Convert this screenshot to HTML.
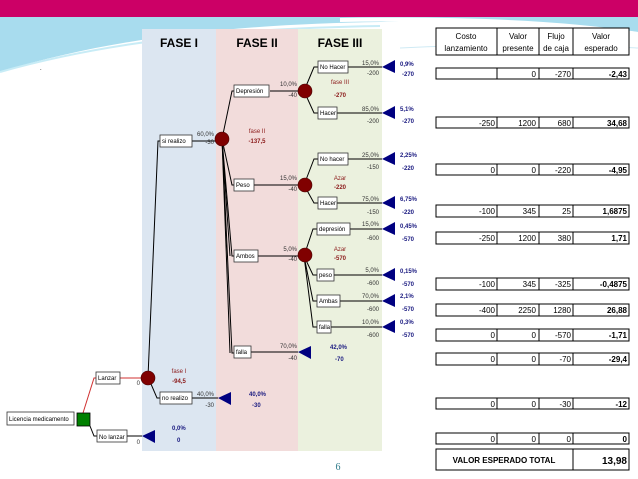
<!DOCTYPE html>
<html><head><meta charset="utf-8"><style>
body{margin:0;width:638px;height:479px;overflow:hidden;background:#fff;font-family:"Liberation Sans",sans-serif}
svg{display:block}
</style></head><body>
<svg width="638" height="479" viewBox="0 0 638 479" font-family="Liberation Sans, sans-serif">
<rect x="0" y="0" width="638" height="17" fill="#cc0066"/>
<path d="M0 17 H638 V32 C560 22 450 20 380 22 C250 24 120 35 0 72 Z" fill="#a8dcee"/>
<path d="M0 72 C120 38 250 28 380 26" stroke="#c8ecf6" stroke-width="2" fill="none"/>
<path d="M340 20 C460 18 560 22 638 34" stroke="#fff" stroke-width="4" fill="none"/>
<path d="M400 48 C480 44 560 44 638 48" stroke="#cfeaf4" stroke-width="1" fill="none"/>
<!-- columns -->
<rect x="142" y="29" width="74" height="422" fill="#dce6f1"/>
<rect x="216" y="29" width="82" height="422" fill="#f2dcdb"/>
<rect x="298" y="29" width="84" height="422" fill="#ebf1de"/>
<g font-weight="bold" font-size="12" text-anchor="middle" fill="#000">
<text x="179" y="47">FASE I</text><text x="257" y="47">FASE II</text><text x="340" y="47">FASE III</text></g>
<text x="40" y="70" font-size="6">.</text>
<!-- lines -->
<g stroke="#000" stroke-width="1" fill="none">
<polyline points="148,377 158,141 160,141"/><polyline points="148,377 157,398 160,398"/>
<line x1="192" y1="141" x2="222" y2="141"/><line x1="192" y1="398" x2="218" y2="398"/>
<polyline points="222,139 232,91 234,91"/><polyline points="222,139 232,185 234,185"/>
<polyline points="222,139 232,256 234,256"/><polyline points="222,139 232,353 234,353"/>
<polyline points="222,139 230,256"/><polyline points="222,139 230,353"/>
<line x1="270" y1="91" x2="304" y2="91"/><line x1="254" y1="185" x2="304" y2="185"/>
<line x1="258" y1="256" x2="304" y2="256"/><line x1="251" y1="352" x2="298" y2="352"/>
<polyline points="304,91 314,67 318,67"/><polyline points="304,91 314,113 318,113"/>
<polyline points="304,185 314,159 318,159"/><polyline points="304,185 314,203 318,203"/>
<polyline points="304,256 313,229 317,229"/><polyline points="304,256 313,275 317,275"/>
<polyline points="304,256 313,301 317,301"/><polyline points="304,256 313,327 317,327"/>
<line x1="348" y1="67" x2="382" y2="67"/><line x1="337" y1="113" x2="382" y2="113"/>
<line x1="348" y1="159" x2="382" y2="159"/><line x1="337" y1="203" x2="382" y2="203"/>
<line x1="350" y1="229" x2="382" y2="229"/><line x1="334" y1="275" x2="382" y2="275"/>
<line x1="340" y1="301" x2="382" y2="301"/><line x1="331" y1="327" x2="382" y2="327"/>
<polyline points="90,426 94,436 97,436"/><line x1="127" y1="436" x2="142" y2="436"/>
</g>
<g stroke="#d03030" fill="none"><polyline points="83,413 94,378 96,378"/><line x1="120" y1="378" x2="148" y2="378"/></g>
<!-- boxes -->
<g fill="#fff" stroke="#333" stroke-width="0.8">
<rect x="7" y="412" width="67" height="13"/><rect x="96" y="372" width="24" height="12"/>
<rect x="97" y="430" width="30" height="12"/><rect x="160" y="135" width="32" height="12"/>
<rect x="160" y="392" width="32" height="12"/><rect x="234" y="85" width="35" height="12"/>
<rect x="234" y="179" width="20" height="12"/><rect x="234" y="250" width="24" height="12"/>
<rect x="234" y="346" width="17" height="12"/>
<rect x="318" y="61" width="30" height="12"/><rect x="318" y="107" width="19" height="12"/>
<rect x="318" y="153" width="30" height="12"/><rect x="318" y="197" width="19" height="12"/>
<rect x="317" y="223" width="33" height="12"/><rect x="317" y="269" width="17" height="12"/>
<rect x="317" y="295" width="23" height="12"/><rect x="317" y="321" width="14" height="12"/>
</g>
<g font-size="6" fill="#000">
<text x="9" y="421">Licencia medicamento</text><text x="98" y="380">Lanzar</text>
<text x="99" y="439">No lanzar</text><text x="162" y="143">si realizo</text>
<text x="162" y="400">no realizo</text><text x="236" y="93">Depresión</text>
<text x="236" y="187">Peso</text><text x="236" y="258">Ambos</text><text x="236" y="354">falla</text>
<text x="320" y="69">No Hacer</text><text x="320" y="115">Hacer</text>
<text x="320" y="161">No hacer</text><text x="320" y="205">Hacer</text>
<text x="319" y="231">depresión</text><text x="319" y="277">peso</text>
<text x="319" y="303">Ambas</text><text x="319" y="329">falla</text>
</g>
<rect x="77" y="413" width="13" height="13" fill="#008000" stroke="#000" stroke-width="0.8"/>
<g fill="#800000" stroke="#400" stroke-width="0.6">
<circle cx="148" cy="378" r="7"/><circle cx="222" cy="139" r="7"/>
<circle cx="305" cy="91" r="7"/><circle cx="305" cy="185" r="7"/><circle cx="305" cy="255" r="7"/>
</g>
<g fill="#000080">
<polygon points="142,436 155,430 155,443"/><polygon points="218,398 231,392 231,405"/>
<polygon points="298,352 311,346 311,359"/>
<polygon points="382,67 395,60 395,73"/><polygon points="382,113 395,106 395,119"/>
<polygon points="382,159 395,152 395,165"/><polygon points="382,203 395,196 395,209"/>
<polygon points="382,229 395,222 395,235"/><polygon points="382,275 395,268 395,281"/>
<polygon points="382,301 395,294 395,307"/><polygon points="382,327 395,320 395,333"/>
</g>
<!-- numbers -->
<g font-size="6" fill="#333" text-anchor="end">
<text x="214" y="136">60,0%</text><text x="214" y="144">-30</text>
<text x="214" y="396">40,0%</text><text x="214" y="407">-30</text>
<text x="297" y="86">10,0%</text><text x="297" y="97">-40</text>
<text x="297" y="180">15,0%</text><text x="297" y="191">-40</text>
<text x="297" y="251">5,0%</text><text x="297" y="261">-40</text>
<text x="297" y="348">70,0%</text><text x="297" y="360">-40</text>
<text x="379" y="65">15,0%</text><text x="379" y="75">-200</text>
<text x="379" y="111">85,0%</text><text x="379" y="123">-200</text>
<text x="379" y="157">25,0%</text><text x="379" y="169">-150</text>
<text x="379" y="201">75,0%</text><text x="379" y="214">-150</text>
<text x="379" y="226">15,0%</text><text x="379" y="240">-600</text>
<text x="379" y="272">5,0%</text><text x="379" y="285">-600</text>
<text x="379" y="298">70,0%</text><text x="379" y="311">-600</text>
<text x="379" y="324">10,0%</text><text x="379" y="337">-600</text>
<text x="140" y="385">0</text><text x="140" y="444">0</text>
</g>
<g font-size="6" fill="#8b1a1a" text-anchor="middle" font-weight="bold">
<text x="179" y="373" font-weight="normal">fase I</text><text x="179" y="383">-94,5</text>
<text x="257" y="133" font-weight="normal">fase II</text><text x="257" y="143">-137,5</text>
<text x="340" y="84" font-weight="normal">fase III</text><text x="340" y="97">-270</text>
<text x="340" y="180" font-weight="normal">Azar</text><text x="340" y="189">-220</text>
<text x="340" y="251" font-weight="normal">Azar</text><text x="340" y="260">-570</text>
</g>
<g font-size="6" fill="#1a1a80" font-weight="bold">
<text x="400" y="66">0,9%</text><text x="402" y="76">-270</text>
<text x="400" y="111">5,1%</text><text x="402" y="123">-270</text>
<text x="400" y="157">2,25%</text><text x="402" y="170">-220</text>
<text x="400" y="201">6,75%</text><text x="402" y="214">-220</text>
<text x="400" y="228">0,45%</text><text x="402" y="241">-570</text>
<text x="400" y="273">0,15%</text><text x="402" y="286">-570</text>
<text x="400" y="298">2,1%</text><text x="402" y="311">-570</text>
<text x="400" y="324">0,3%</text><text x="402" y="337">-570</text>
<text x="330" y="349">42,0%</text><text x="335" y="361">-70</text>
<text x="249" y="396">40,0%</text><text x="252" y="407">-30</text>
<text x="172" y="430">0,0%</text><text x="177" y="442">0</text>
</g>
<!-- table -->
<g stroke="#000" stroke-width="1" fill="#fff">
<rect x="436" y="28" width="193" height="27"/>
<line x1="497" y1="28" x2="497" y2="55"/><line x1="539" y1="28" x2="539" y2="55"/><line x1="573" y1="28" x2="573" y2="55"/>
</g>
<g font-size="8" text-anchor="middle" fill="#000">
<text x="466" y="39">Costo</text><text x="466" y="51">lanzamiento</text>
<text x="518" y="39">Valor</text><text x="518" y="51">presente</text>
<text x="556" y="39">Flujo</text><text x="556" y="51">de caja</text>
<text x="601" y="39">Valor</text><text x="601" y="51">esperado</text>
</g>
<g id="rows" font-size="8" text-anchor="end"></g>
<g stroke="#000" fill="none">
<rect x="436" y="449" width="193" height="21"/><line x1="573" y1="449" x2="573" y2="470"/>
</g>
<text x="504" y="463" font-size="8" font-weight="bold" text-anchor="middle">VALOR ESPERADO TOTAL</text>
<text x="627" y="464" font-size="10" font-weight="bold" text-anchor="end">13,98</text>
<text x="338" y="470" font-size="10" fill="#2e7b8a" text-anchor="middle" font-family="Liberation Serif, serif">6</text>
<g font-size="8" text-anchor="end" stroke-width="1">
<g><rect x="436" y="68" width="193" height="11" fill="none" stroke="#000"/><path d="M497 68v11M539 68v11M573 68v11" stroke="#000"/><text x="536" y="77">0</text><text x="571" y="77">-270</text><text x="627" y="77" font-weight="bold">-2,43</text></g>
<g><rect x="436" y="117" width="193" height="11" fill="none" stroke="#000"/><path d="M497 117v11M539 117v11M573 117v11" stroke="#000"/><text x="495" y="126">-250</text><text x="536" y="126">1200</text><text x="571" y="126">680</text><text x="627" y="126" font-weight="bold">34,68</text></g>
<g><rect x="436" y="164" width="193" height="11" fill="none" stroke="#000"/><path d="M497 164v11M539 164v11M573 164v11" stroke="#000"/><text x="495" y="173">0</text><text x="536" y="173">0</text><text x="571" y="173">-220</text><text x="627" y="173" font-weight="bold">-4,95</text></g>
<g><rect x="436" y="205" width="193" height="12" fill="none" stroke="#000"/><path d="M497 205v12M539 205v12M573 205v12" stroke="#000"/><text x="495" y="214">-100</text><text x="536" y="214">345</text><text x="571" y="214">25</text><text x="627" y="214" font-weight="bold">1,6875</text></g>
<g><rect x="436" y="232" width="193" height="12" fill="none" stroke="#000"/><path d="M497 232v12M539 232v12M573 232v12" stroke="#000"/><text x="495" y="241">-250</text><text x="536" y="241">1200</text><text x="571" y="241">380</text><text x="627" y="241" font-weight="bold">1,71</text></g>
<g><rect x="436" y="278" width="193" height="12" fill="none" stroke="#000"/><path d="M497 278v12M539 278v12M573 278v12" stroke="#000"/><text x="495" y="287">-100</text><text x="536" y="287">345</text><text x="571" y="287">-325</text><text x="627" y="287" font-weight="bold">-0,4875</text></g>
<g><rect x="436" y="304" width="193" height="12" fill="none" stroke="#000"/><path d="M497 304v12M539 304v12M573 304v12" stroke="#000"/><text x="495" y="313">-400</text><text x="536" y="313">2250</text><text x="571" y="313">1280</text><text x="627" y="313" font-weight="bold">26,88</text></g>
<g><rect x="436" y="329" width="193" height="12" fill="none" stroke="#000"/><path d="M497 329v12M539 329v12M573 329v12" stroke="#000"/><text x="495" y="338">0</text><text x="536" y="338">0</text><text x="571" y="338">-570</text><text x="627" y="338" font-weight="bold">-1,71</text></g>
<g><rect x="436" y="353" width="193" height="12" fill="none" stroke="#000"/><path d="M497 353v12M539 353v12M573 353v12" stroke="#000"/><text x="495" y="362">0</text><text x="536" y="362">0</text><text x="571" y="362">-70</text><text x="627" y="362" font-weight="bold">-29,4</text></g>
<g><rect x="436" y="398" width="193" height="11" fill="none" stroke="#000"/><path d="M497 398v11M539 398v11M573 398v11" stroke="#000"/><text x="495" y="407">0</text><text x="536" y="407">0</text><text x="571" y="407">-30</text><text x="627" y="407" font-weight="bold">-12</text></g>
<g><rect x="436" y="433" width="193" height="11" fill="none" stroke="#000"/><path d="M497 433v11M539 433v11M573 433v11" stroke="#000"/><text x="495" y="442">0</text><text x="536" y="442">0</text><text x="571" y="442">0</text><text x="627" y="442" font-weight="bold">0</text></g>
</g>
</svg>
</body></html>
